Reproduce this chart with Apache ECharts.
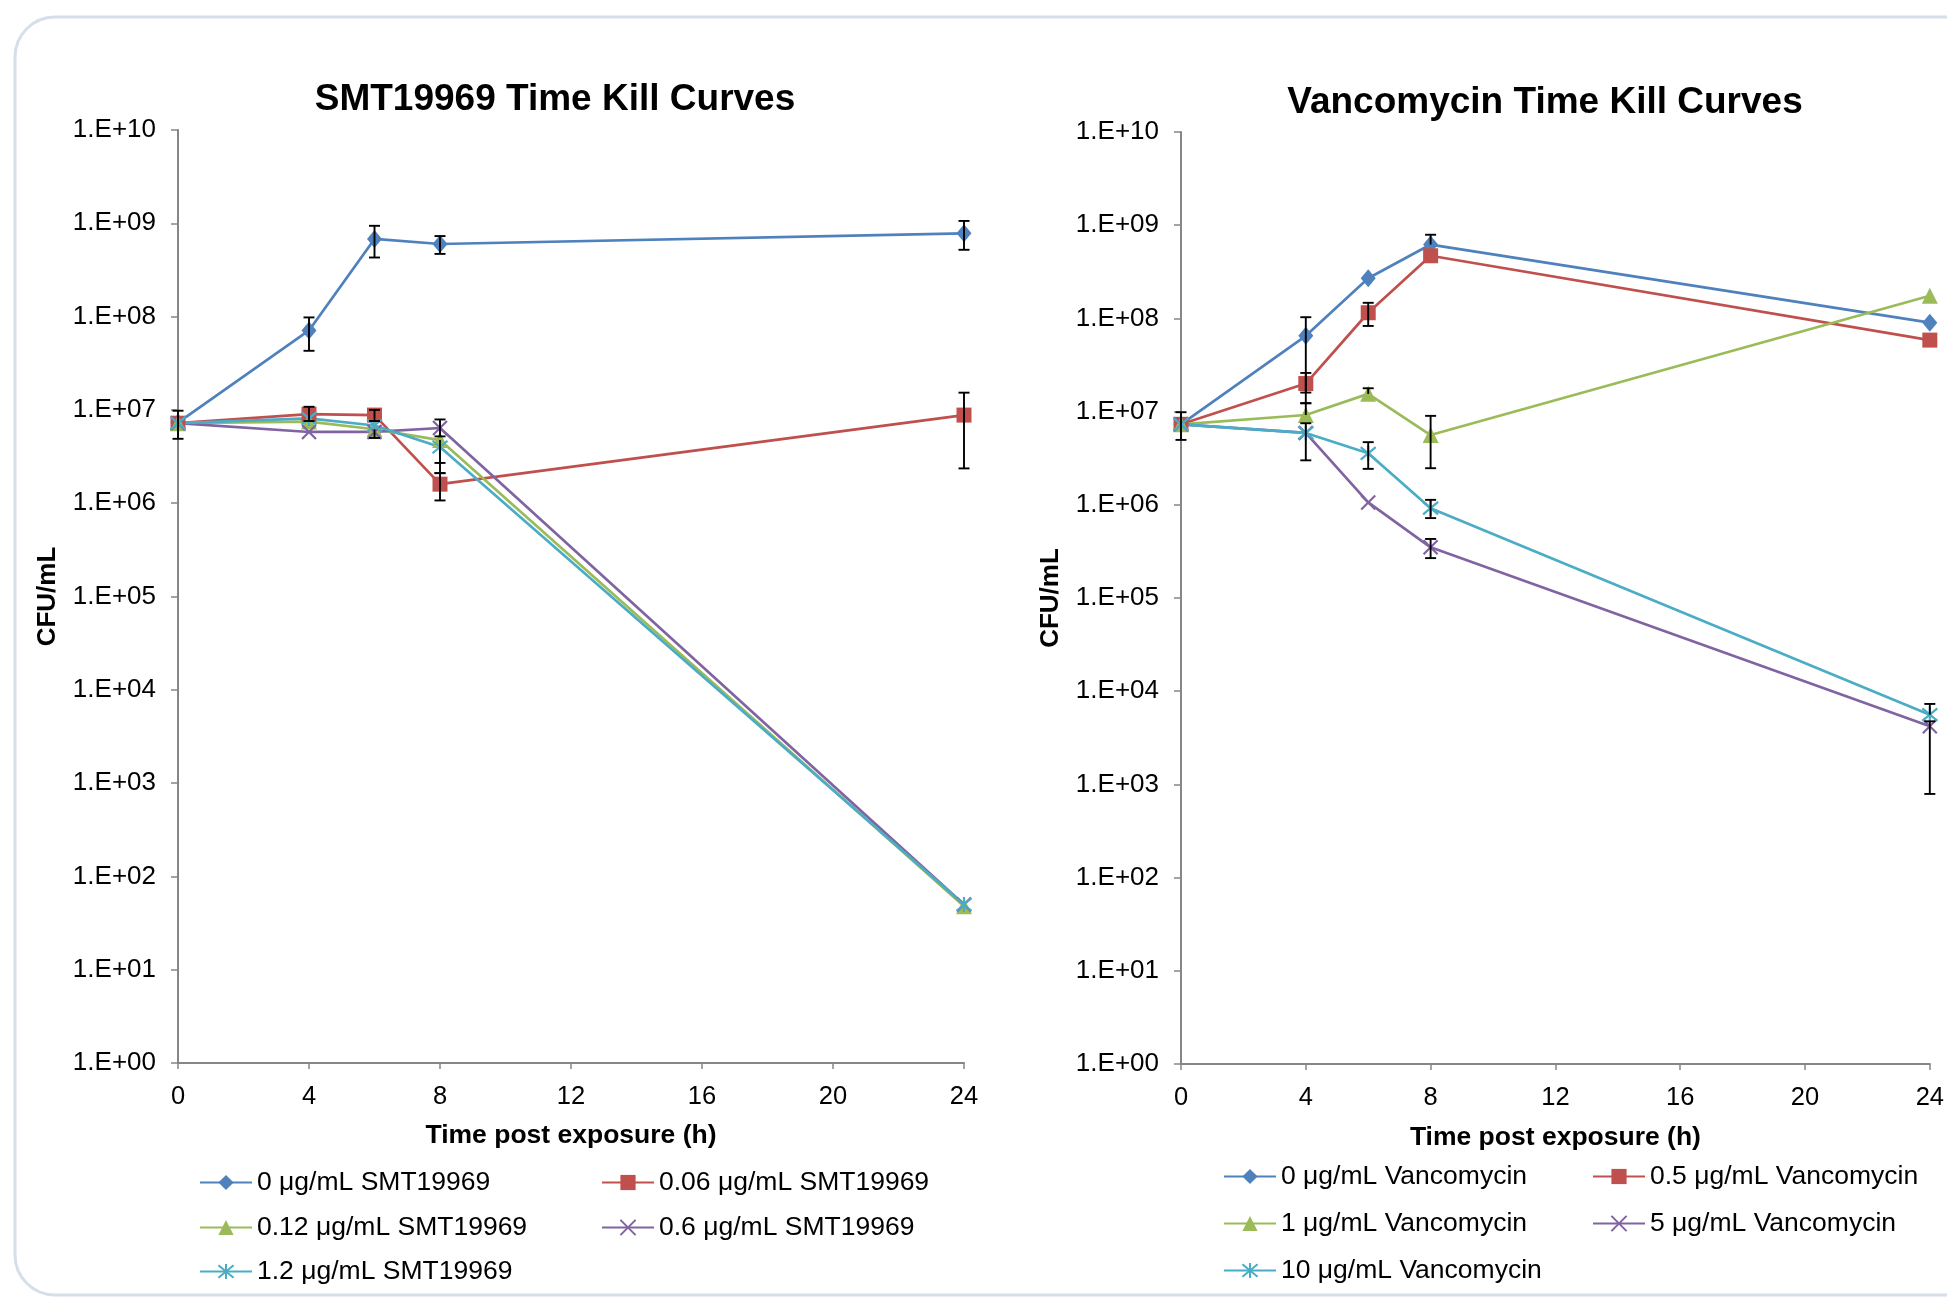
<!DOCTYPE html>
<html>
<head>
<meta charset="utf-8">
<script src="https://cdn.jsdelivr.net/npm/echarts@6/dist/echarts.min.js"></script>
<style>
  html, body { margin: 0; padding: 0; background: #fff; }
  #report { width: 1947px; height: 1299px; }
</style>
</head>
<body>
<div id="report"></div>
<script>
// time points (h)
var hours = [0, 4, 6, 8, 24];

// SMT19969 curves (CFU/mL), null = no visible error bar
var smtNames = ['0 μg/mL SMT19969', '0.06 μg/mL SMT19969', '0.12 μg/mL SMT19969', '0.6 μg/mL SMT19969', '1.2 μg/mL SMT19969'];
var smt0   = [7.3e6, 7.1e7, 6.8e8, 6.0e8, 7.8e8];
var smt0Lo = [4.9e6, 4.3e7, 4.3e8, 4.7e8, 5.2e8];
var smt0Hi = [9.8e6, 9.8e7, 9.4e8, 7.3e8, 1.06e9];
var smt006   = [7.2e6, 9.0e6, 8.8e6, 1.6e6, 8.8e6];
var smt006Lo = [null, 7.6e6, 7.6e6, 1.07e6, 2.36e6];
var smt006Hi = [null, 1.08e7, 1.0e7, 2.1e6, 1.53e7];
var smt012   = [7.2e6, 7.5e6, 6.2e6, 4.75e6, 48];
var smt012Lo = [null, null, 5.0e6, 2.7e6, null];
var smt012Hi = [null, null, null, null, null];
var smt06   = [7.2e6, 5.8e6, 5.8e6, 6.4e6, 50];
var smt06Lo = [null, null, null, 5.2e6, null];
var smt06Hi = [null, null, null, 7.9e6, null];
var smt12   = [7.2e6, 8.1e6, 6.8e6, 4.0e6, 50];
var smt12Lo = [null, null, null, 2.1e6, null];
var smt12Hi = [null, null, null, null, null];

// Vancomycin curves (CFU/mL)
var vanNames = ['0 μg/mL Vancomycin', '0.5 μg/mL Vancomycin', '1 μg/mL Vancomycin', '5 μg/mL Vancomycin', '10 μg/mL Vancomycin'];
var van0   = [7.3e6, 6.5e7, 2.7e8, 6.2e8, 9.0e7];
var van0Lo = [4.97e6, 1.6e7, null, null, null];
var van0Hi = [9.85e6, 1.03e8, null, 7.9e8, null];
var van05   = [7.3e6, 2.0e7, 1.15e8, 4.7e8, 5.85e7];
var van05Lo = [null, 1.23e7, 8.3e7, null, null];
var van05Hi = [null, 2.6e7, 1.47e8, null, null];
var van1   = [7.3e6, 9.2e6, 1.55e7, 5.6e6, 1.75e8];
var van1Lo = [null, null, null, 2.47e6, null];
var van1Hi = [null, 1.23e7, 1.78e7, 9.0e6, null];
var van5   = [7.3e6, 5.9e6, 1.06e6, 3.5e5, 4.2e3];
var van5Lo = [null, 3.0e6, null, 2.68e5, 7.9e2];
var van5Hi = [null, null, null, 4.3e5, 4.75e3];
var van10   = [7.3e6, 5.9e6, 3.57e6, 9.2e5, 5.6e3];
var van10Lo = [null, null, 2.43e6, 7.2e5, null];
var van10Hi = [null, 7.5e6, 4.7e6, 1.13e6, 7.3e3];

var colors = ['#4F81BD', '#C0504D', '#9BBB59', '#8064A2', '#4BACC6'];
var symbols = ['diamond', 'rect', 'triangle', 'path://M0,0L10,10M10,0L0,10', 'path://M0,0L10,10M10,0L0,10M5,-1L5,11'];
var symbolSizes = [[15, 18], 15, 16, 14, 15];
var font = 'Liberation Sans';

var myChart = echarts.init(document.getElementById('report'));

function pair(vals) {
  return hours.map(function(h, i) { return [h, vals[i]]; });
}

function errData(vals, lo, hi) {
  var out = [];
  hours.forEach(function(h, i) {
    if (lo[i] == null && hi[i] == null) return;
    out.push([h, lo[i] == null ? vals[i] : lo[i], hi[i] == null ? vals[i] : hi[i], vals[i]]);
  });
  return out;
}

function renderErr(params, api) {
  var x = api.value(0);
  var v = api.value(3);
  var pLo = api.coord([x, api.value(1)]);
  var pHi = api.coord([x, api.value(2)]);
  var pV = api.coord([x, v]);
  var w = 5.5;
  var st = { stroke: '#000', lineWidth: 1.9 };
  var kids = [{ type: 'line', shape: { x1: pLo[0], y1: pLo[1], x2: pHi[0], y2: pHi[1] }, style: st }];
  if (Math.abs(pLo[1] - pV[1]) > 0.5) kids.push({ type: 'line', shape: { x1: pLo[0] - w, y1: pLo[1], x2: pLo[0] + w, y2: pLo[1] }, style: st });
  if (Math.abs(pHi[1] - pV[1]) > 0.5) kids.push({ type: 'line', shape: { x1: pHi[0] - w, y1: pHi[1], x2: pHi[0] + w, y2: pHi[1] }, style: st });
  return { type: 'group', children: kids };
}

function logLabel(v) {
  var e = Math.round(Math.log10(v));
  return '1.E+' + (e < 10 ? '0' : '') + e;
}

function xAxisOf(idx, gap) {
  return {
    type: 'value', gridIndex: idx, min: 0, max: 24, interval: 4,
    name: 'Time post exposure (h)', nameLocation: 'middle', nameGap: gap,
    nameTextStyle: { fontFamily: font, fontSize: 26.5, fontWeight: 'bold', color: '#000' },
    axisLine: { lineStyle: { color: '#868686', width: 2 } },
    axisTick: { show: true, length: 6, lineStyle: { color: '#868686', width: 1.5 } },
    axisLabel: { fontFamily: font, fontSize: 25.5, color: '#000', margin: 21, showMaxLabel: true },
    splitLine: { show: false }
  };
}

function yAxisOf(idx) {
  return {
    type: 'log', logBase: 10, gridIndex: idx, min: 1, max: 1e10, interval: 1,
    name: 'CFU/mL', nameLocation: 'middle', nameGap: 117,
    nameTextStyle: { fontFamily: font, fontSize: 26, fontWeight: 'bold', color: '#000' },
    axisLine: { show: true, lineStyle: { color: '#868686', width: 2 } },
    axisTick: { show: true, length: 7, lineStyle: { color: '#868686', width: 1.5 } },
    axisLabel: { fontFamily: font, fontSize: 26, color: '#000', margin: 22, formatter: logLabel },
    minorTick: { show: false },
    splitLine: { show: false }
  };
}

var series = [];
var legends = [];

function addChart(idx, names, vals, los, his) {
  names.forEach(function(n, k) {
    series.push({
      name: n, type: 'line', xAxisIndex: idx, yAxisIndex: idx,
      data: pair(vals[k]),
      symbol: symbols[k], symbolSize: symbolSizes[k], showAllSymbol: true,
      lineStyle: { color: colors[k], width: 2.7 },
      itemStyle: { color: colors[k], borderColor: colors[k], borderWidth: k >= 3 ? 2.2 : 0 },
      z: 2, animation: false
    });
    series.push({
      type: 'custom', xAxisIndex: idx, yAxisIndex: idx,
      data: errData(vals[k], los[k], his[k]),
      renderItem: renderErr, encode: { x: 0, y: [1, 2] },
      z: 3, silent: true, animation: false
    });
  });
}

addChart(0, smtNames,
  [smt0, smt006, smt012, smt06, smt12],
  [smt0Lo, smt006Lo, smt012Lo, smt06Lo, smt12Lo],
  [smt0Hi, smt006Hi, smt012Hi, smt06Hi, smt12Hi]);
addChart(1, vanNames,
  [van0, van05, van1, van5, van10],
  [van0Lo, van05Lo, van1Lo, van5Lo, van10Lo],
  [van0Hi, van05Hi, van1Hi, van5Hi, van10Hi]);

// legend slots: [name, left, rowCenterY]
var legendSlots = [
  [smtNames[0], 199, 1184], [smtNames[1], 601, 1184],
  [smtNames[2], 199, 1229], [smtNames[3], 601, 1229],
  [smtNames[4], 199, 1273],
  [vanNames[0], 1223, 1178], [vanNames[1], 1592, 1178],
  [vanNames[2], 1223, 1225], [vanNames[3], 1592, 1225],
  [vanNames[4], 1223, 1272]
];
legendSlots.forEach(function(s) {
  legends.push({
    data: [s[0]], left: s[1], top: s[2] - 15, padding: 0, itemGap: 0,
    itemWidth: 52, itemHeight: 19, selectedMode: false,
    textStyle: { fontFamily: font, fontSize: 26.5, color: '#000', padding: [0, 0, 0, 0] }
  });
});

var option = {
  backgroundColor: '#fff',
  animation: false,
  title: [
    { text: 'SMT19969 Time Kill Curves', left: 550, top: 76, textAlign: 'center',
      textStyle: { fontFamily: font, fontSize: 37, fontWeight: 'bold', color: '#000' } },
    { text: 'Vancomycin Time Kill Curves', left: 1540, top: 79, textAlign: 'center',
      textStyle: { fontFamily: font, fontSize: 37, fontWeight: 'bold', color: '#000' } }
  ],
  graphic: [{
    type: 'rect', z: -10, silent: true,
    shape: { x: 15, y: 17, width: 2100, height: 1278, r: 40 },
    style: { fill: 'none', stroke: '#d6deea', lineWidth: 3 }
  }],
  legend: legends,
  grid: [
    { left: 178, top: 130, width: 786, height: 933, containLabel: false },
    { left: 1181, top: 132, width: 758, height: 932, containLabel: false }
  ],
  xAxis: [xAxisOf(0, 59), xAxisOf(1, 60)],
  yAxis: [yAxisOf(0), yAxisOf(1)],
  series: series
};
myChart.setOption(option);
</script>
</body>
</html>
